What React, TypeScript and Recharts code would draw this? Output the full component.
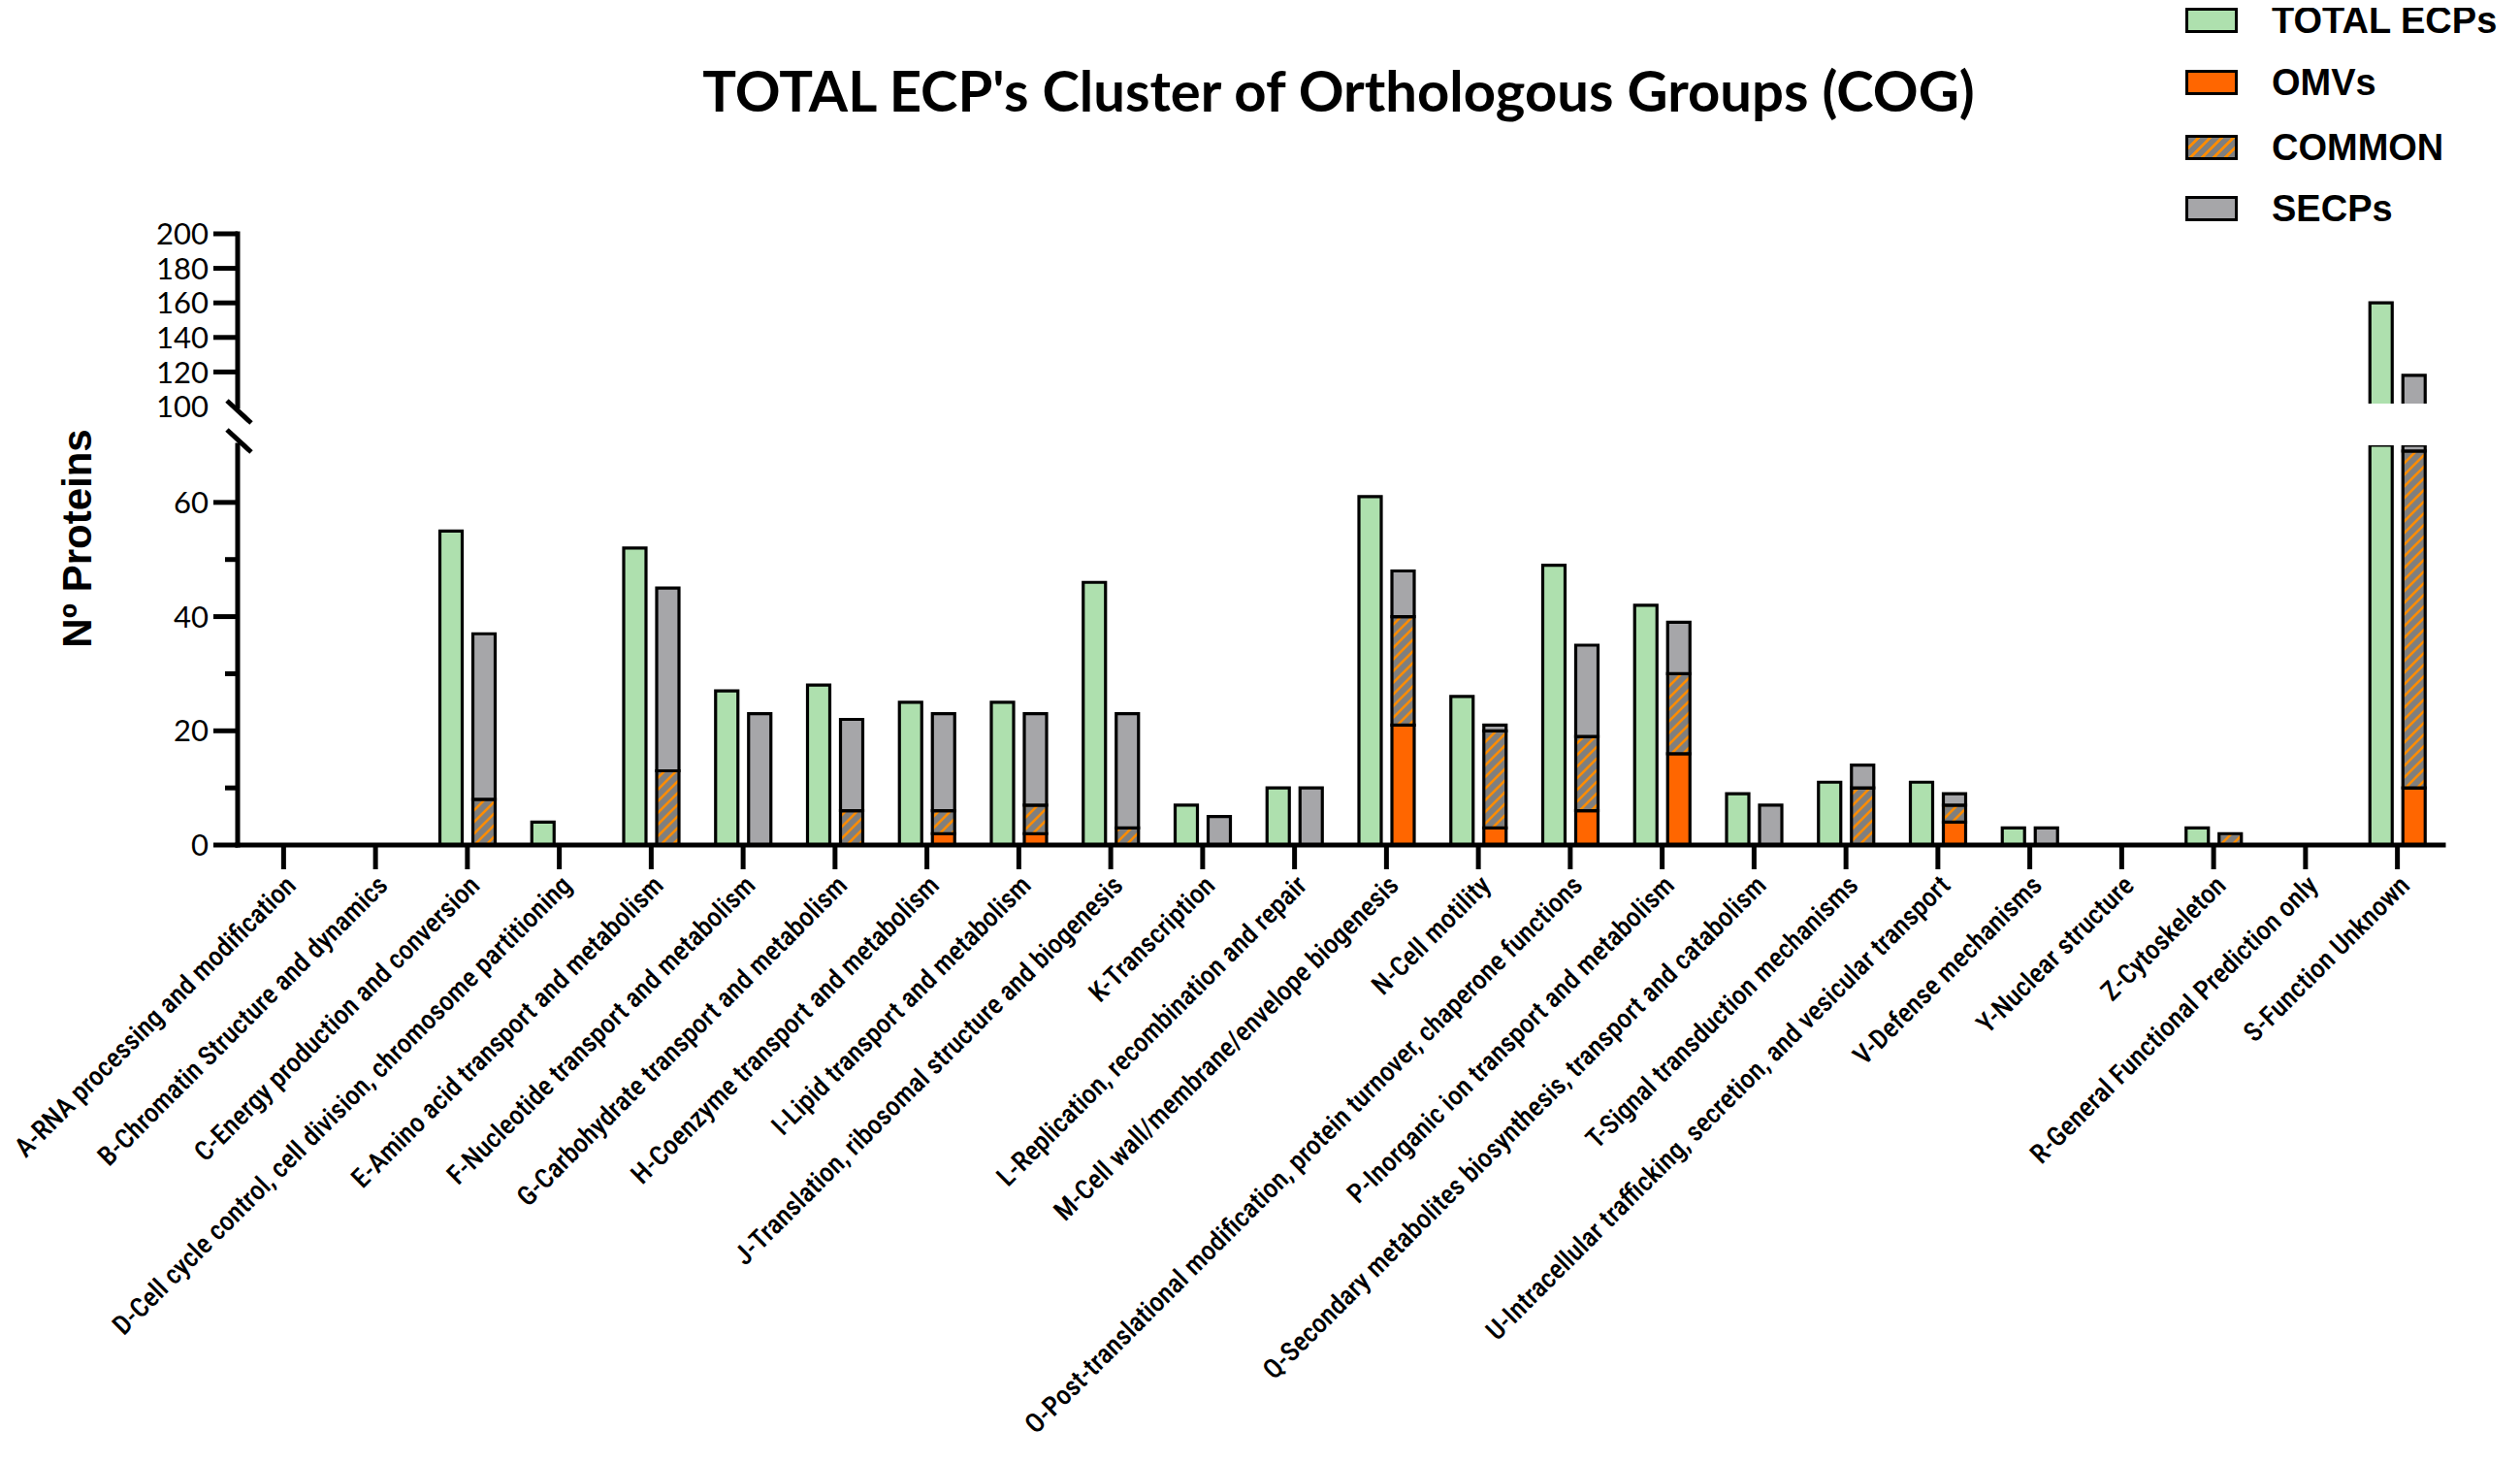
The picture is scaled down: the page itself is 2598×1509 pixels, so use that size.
import { ComposedChart, Bar, XAxis, YAxis } from 'recharts';

const categories = [
  'A-RNA processing and modification',
  'B-Chromatin Structure and dynamics',
  'C-Energy production and conversion',
  'D-Cell cycle control, cell division, chromosome partitioning',
  'E-Amino acid transport and metabolism',
  'F-Nucleotide transport and metabolism',
  'G-Carbohydrate transport and metabolism',
  'H-Coenzyme transport and metabolism',
  'I-Lipid transport and metabolism',
  'J-Translation, ribosomal structure and biogenesis',
  'K-Transcription',
  'L-Replication, recombination and repair',
  'M-Cell wall/membrane/envelope biogenesis',
  'N-Cell motility',
  'O-Post-translational modification, protein turnover, chaperone functions',
  'P-Inorganic ion transport and metabolism',
  'Q-Secondary metabolites biosynthesis, transport and catabolism',
  'T-Signal transduction mechanisms',
  'U-Intracellular trafficking, secretion, and vesicular transport',
  'V-Defense mechanisms',
  'Y-Nuclear structure',
  'Z-Cytoskeleton',
  'R-General Functional Prediction only',
  'S-Function Unknown',
];

const totalEcps = [0, 0, 55, 4, 52, 27, 28, 25, 25, 46, 7, 10, 61, 26, 49, 42, 9, 11, 11, 3, 0, 3, 0, 160];
const omvs = [0, 0, 0, 0, 0, 0, 0, 2, 2, 0, 0, 0, 21, 3, 6, 16, 0, 0, 4, 0, 0, 0, 0, 10];
const common = [0, 0, 8, 0, 13, 0, 6, 4, 5, 3, 0, 0, 19, 17, 13, 14, 0, 10, 3, 0, 0, 2, 0, 59];
const secps = [0, 0, 29, 0, 32, 23, 16, 17, 16, 20, 5, 10, 8, 1, 16, 9, 7, 4, 2, 3, 0, 0, 0, 49];

const upperTicks = [100, 120, 140, 160, 180, 200];
const lowerTicks = [0, 10, 20, 30, 40, 50, 60];

const GREEN = '#aee0ae';
const ORANGE = '#ff6600';
const GRAY = '#a6a6a9';
const HATCH_BG = '#7f7f7f';
const HATCH_LINE = '#ff8c00';

const legendItems = [
  { name: 'TOTAL ECPs', fill: GREEN },
  { name: 'OMVs', fill: ORANGE },
  { name: 'COMMON', fill: 'hatch' },
  { name: 'SECPs', fill: GRAY },
];

const data = categories.map((name, i) => ({
  name,
  total: totalEcps[i],
  omv: omvs[i],
  common: common[i],
  secp: secps[i],
}));

const W = 2582;
const AXIS_X = 237;
const RIGHT = 71;
const numFont = 'Lato, "Open Sans", sans-serif';
const boldFont = '"Liberation Sans", Arial, sans-serif';
const narrowFont = 'Roboto, "DejaVu Sans Condensed", sans-serif';

const axisLine = { stroke: '#000', strokeWidth: 5, strokeLinecap: 'square' as const };

const UpperTick = (props: any) => {
  const { y, payload } = props;
  const v = payload.value;
  return (
    <g>
      {v > 100 && <line x1={AXIS_X - 25} x2={AXIS_X} y1={y} y2={y} stroke="#000" strokeWidth={5} />}
      <text x={AXIS_X - 30} y={y} dy="0.36em" textAnchor="end" fontFamily={numFont} fontSize={31} fill="#000">
        {v}
      </text>
    </g>
  );
};

const LowerTick = (props: any) => {
  const { y, payload } = props;
  const v = payload.value;
  const major = v % 20 === 0;
  return (
    <g>
      <line x1={AXIS_X - (major ? 25 : 13)} x2={AXIS_X} y1={y} y2={y} stroke="#000" strokeWidth={5} />
      {major && (
        <text x={AXIS_X - 30} y={y} dy="0.36em" textAnchor="end" fontFamily={numFont} fontSize={31} fill="#000">
          {v}
        </text>
      )}
    </g>
  );
};

const CategoryTick = (props: any) => {
  const { x, y, payload } = props;
  return (
    <text
      x={x}
      y={y}
      dy="0.72em"
      textAnchor="end"
      transform={`rotate(-45, ${x}, ${y})`}
      fontFamily={narrowFont}
      fontStretch="condensed"
      fontWeight={500}
      fontSize={28}
      fill="#000"
    >
      {payload.value}
    </text>
  );
};

const Hatch = ({ id }: { id: string }) => (
  <defs>
    <pattern id={id} patternUnits="userSpaceOnUse" width={12} height={12}>
      <rect width={12} height={12} fill={HATCH_BG} />
      <path d="M-3,3 L3,-3 M0,12 L12,0 M9,15 L15,9" stroke={HATCH_LINE} strokeWidth={2.6} />
    </pattern>
  </defs>
);

const renderBars = (hatchId: string) => [
  <Bar key="total" dataKey="total" stackId="g" fill={GREEN} stroke="#000" strokeWidth={3.2} isAnimationActive={false} />,
  <Bar key="omv" dataKey="omv" stackId="s" fill={ORANGE} stroke="#000" strokeWidth={3.2} isAnimationActive={false} />,
  <Bar key="common" dataKey="common" stackId="s" fill={`url(#${hatchId})`} stroke="#000" strokeWidth={3.2} isAnimationActive={false} />,
  <Bar key="secp" dataKey="secp" stackId="s" fill={GRAY} stroke="#000" strokeWidth={3.2} isAnimationActive={false} />,
];

export default function App() {
  return (
    <div style={{ position: 'relative', width: W, height: 1493, background: '#fff' }}>
      <ComposedChart
        width={W}
        height={1493}
        data={data}
        margin={{ top: 451, right: RIGHT, bottom: 30, left: 0 }}
        barGap={11}
        barSize={23}
        style={{ position: 'absolute', left: 0, top: 0 }}
      >
        <Hatch id="hatchLo" />
        <XAxis
          dataKey="name"
          interval={0}
          height={600}
          axisLine={axisLine}
          tickLine={{ stroke: '#000', strokeWidth: 5 }}
          tickSize={25}
          tickMargin={4}
          tick={<CategoryTick />}
        />
        <YAxis
          width={AXIS_X}
          domain={[0, 70]}
          allowDataOverflow
          ticks={lowerTicks}
          interval={0}
          axisLine={axisLine}
          tickLine={false}
          tick={<LowerTick />}
        />
        {renderBars('hatchLo')}
      </ComposedChart>

      <ComposedChart
        width={W}
        height={440}
        data={data}
        margin={{ top: 233, right: RIGHT, bottom: 29, left: 0 }}
        barGap={11}
        barSize={23}
        style={{ position: 'absolute', left: 0, top: 0 }}
      >
        <Hatch id="hatchUp" />
        <XAxis dataKey="name" hide height={0} />
        <YAxis
          width={AXIS_X}
          domain={[100, 200]}
          allowDataOverflow
          ticks={upperTicks}
          interval={0}
          axisLine={axisLine}
          tickLine={false}
          tick={<UpperTick />}
        />
        {renderBars('hatchUp')}
      </ComposedChart>

      {/* cut edge of the upper panel and axis break marks */}
      <svg width={W} height={90} style={{ position: 'absolute', left: 0, top: 390 }}>
        <rect x={241} y={18} width={W - RIGHT - 238} height={6} fill="#fff" />
        <line x1={226} y1={15} x2={251} y2={38} stroke="#000" strokeWidth={5} />
        <line x1={226} y1={45} x2={251} y2={68} stroke="#000" strokeWidth={5} />
      </svg>

      <div
        style={{
          position: 'absolute',
          left: 0,
          width: 2744,
          top: 56,
          textAlign: 'center',
          fontFamily: 'Lato, sans-serif',
          fontWeight: 700,
          fontSize: 58,
          color: '#000',
          whiteSpace: 'nowrap',
          lineHeight: 1,
        }}
      >
        TOTAL ECP's Cluster of Orthologous Groups (COG)
      </div>

      <div
        style={{
          position: 'absolute',
          left: 72,
          top: 547,
          transform: 'translate(-50%, -50%) rotate(-90deg)',
          fontFamily: boldFont,
          fontWeight: 700,
          fontSize: 42,
          whiteSpace: 'nowrap',
          lineHeight: 1,
        }}
      >
        Nº Proteins
      </div>

      {legendItems.map((item, i) => (
        <div
          key={item.name}
          style={{
            position: 'absolute',
            left: 2245,
            top: [13, 77, 144, 207][i] - 13,
            height: 26,
            display: 'flex',
            alignItems: 'center',
            whiteSpace: 'nowrap',
          }}
        >
          <div
            style={{
              width: 48,
              height: 20,
              border: '3px solid #000',
              background:
                item.fill === 'hatch'
                  ? `repeating-linear-gradient(135deg, ${HATCH_BG} 0 6px, ${HATCH_LINE} 6px 8.5px)`
                  : item.fill,
            }}
          />
          <span
            style={{
              marginLeft: 35,
              fontFamily: boldFont,
              fontWeight: 700,
              fontSize: 38,
              lineHeight: 1,
            }}
          >
            {item.name}
          </span>
        </div>
      ))}
    </div>
  );
}
